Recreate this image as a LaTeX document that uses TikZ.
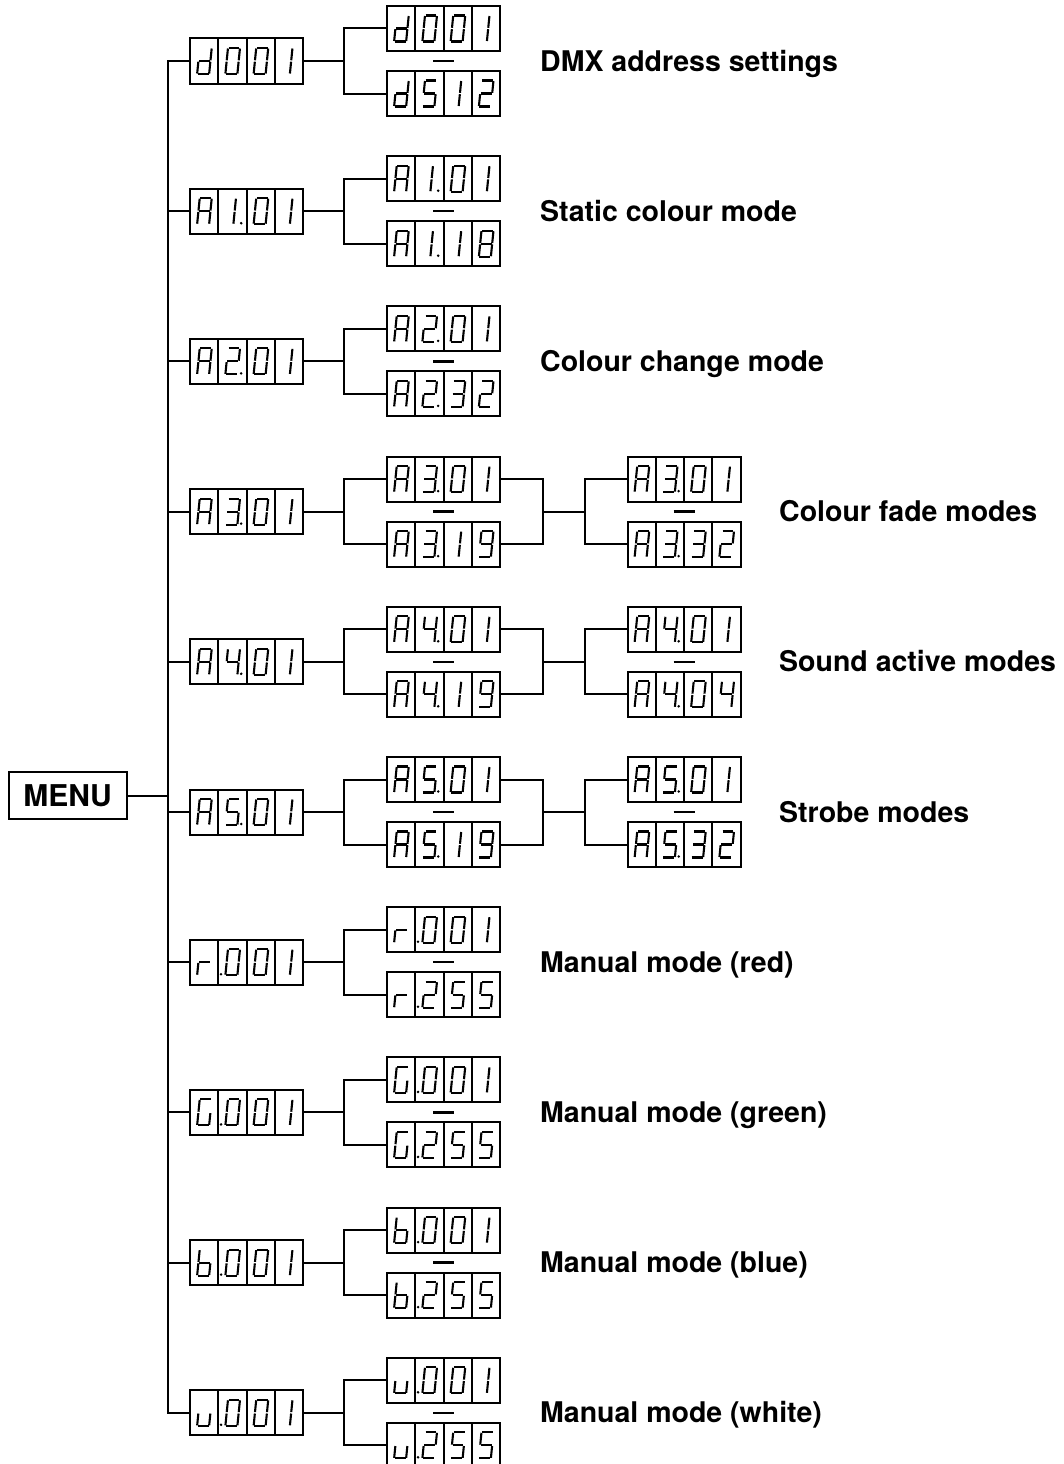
\documentclass[tikz,border=0pt]{standalone}
\usepackage{fontspec}
\setmainfont{TeX Gyre Heros}
\usetikzlibrary{calc}

% glyph segment lists
\def\glA{a,b,c,e,f,g}
\def\gld{b,c,d,e,g}
\def\glr{e,g}
\def\glG{a,f,e,d,c}
\def\glb{f,e,d,c,g}
\def\glu{e,d,c}
\expandafter\def\csname gl0\endcsname{a,b,c,d,e,f}
\expandafter\def\csname gl1\endcsname{p,q}
\expandafter\def\csname gl2\endcsname{a,b,g,e,d}
\expandafter\def\csname gl3\endcsname{a,b,g,c,d}
\expandafter\def\csname gl4\endcsname{f,g,b,c}
\expandafter\def\csname gl5\endcsname{a,f,g,c,d}
\expandafter\def\csname gl8\endcsname{a,b,c,d,e,f,g}
\expandafter\def\csname gl9\endcsname{a,b,c,d,f,g}
% segment paths (local, y down)
\def\sga{(-5.4,-13)--(5.4,-13)}
\def\sgb{(6,-12.5)--(6,-0.7)}
\def\sgc{(6,0.7)--(6,12.5)}
\def\sgd{(-5.4,13)--(5.4,13)}
\def\sge{(-6,0.7)--(-6,12.5)}
\def\sgf{(-6,-12.5)--(-6,-0.7)}
\def\sgg{(-5.4,0)--(5.4,0)}
\def\sgp{(2,-12.5)--(2,-0.7)}
\def\sgq{(2,0.7)--(2,12.5)}

\tikzset{
  boxline/.style={line width=2pt},
  dispbox/.style={draw, boxline, rectangle, minimum width=113pt, minimum height=45pt, inner sep=0pt, outer sep=0pt},
  segline/.style={line width=2.1pt, line cap=butt},
  conn/.style={line width=2pt},
  lab/.style={anchor=base west, inner sep=0pt, font=\bfseries\fontsize{28.5}{30}\selectfont},
  menubox/.style={draw, boxline, minimum width=118pt, minimum height=47pt, inner sep=0pt, font=\bfseries\fontsize{30}{32}\selectfont},
}

\newcommand\dispshow[8]{%
  \node[dispbox] (#1) at (#2,#3) {};
  \foreach \kk in {1,2,3}{\draw[boxline] ({#2-56.5+\kk*28.25},{#3-22.5}) -- ++(0,45);}
  \foreach \kk/\gch in {1/#4,2/#5,3/#6,4/#7}{%
    \expandafter\let\expandafter\seglist\csname gl\gch\endcsname
    \begin{scope}[shift={({#2-56.5+(\kk-0.5)*28.25+0.3},#3)},xslant=0.1]
      \foreach \s in \seglist{\expandafter\let\expandafter\segpath\csname sg\s\endcsname \draw[segline] \segpath;}
    \end{scope}}
  \ifx R#8 \fill ({#2-56.5+1.5*28.25+8.8},{#3+12}) circle (1.4);\fi
  \ifx L#8 \fill ({#2-56.5+28.25+2.8},{#3+12}) circle (1.4);\fi
}
\newcommand\dashmark[2]{\draw[line width=2.3pt] ({#1-10.5},#2) -- ({#1+10.5},#2);}

\begin{document}
\begin{tikzpicture}[x=1pt,y=-1pt]
\useasboundingbox (0,0) rectangle (1064,1464);
\clip (0,0) rectangle (1064,1464);

\node[menubox] (menu) at (67.5,795.5) {MENU};
\coordinate (trunk) at (168,0);

% rows: main displays
\dispshow{m1}{246.5}{61}{d}{0}{0}{1}{N}
\dispshow{m2}{246.5}{211.2}{A}{1}{0}{1}{R}
\dispshow{m3}{246.5}{361.4}{A}{2}{0}{1}{R}
\dispshow{m4}{246.5}{511.6}{A}{3}{0}{1}{R}
\dispshow{m5}{246.5}{661.8}{A}{4}{0}{1}{R}
\dispshow{m6}{246.5}{812}{A}{5}{0}{1}{R}
\dispshow{m7}{246.5}{962.2}{r}{0}{0}{1}{L}
\dispshow{m8}{246.5}{1112.4}{G}{0}{0}{1}{L}
\dispshow{m9}{246.5}{1262.6}{b}{0}{0}{1}{L}
\dispshow{m10}{246.5}{1412.8}{u}{0}{0}{1}{L}

% sub displays
\dispshow{s1a}{443.5}{28.5}{d}{0}{0}{1}{N}
\dispshow{s1b}{443.5}{93.5}{d}{5}{1}{2}{N}
\dispshow{s2a}{443.5}{178.7}{A}{1}{0}{1}{R}
\dispshow{s2b}{443.5}{243.7}{A}{1}{1}{8}{R}
\dispshow{s3a}{443.5}{328.9}{A}{2}{0}{1}{R}
\dispshow{s3b}{443.5}{393.9}{A}{2}{3}{2}{R}
\dispshow{s4a}{443.5}{479.1}{A}{3}{0}{1}{R}
\dispshow{s4b}{443.5}{544.1}{A}{3}{1}{9}{R}
\dispshow{s5a}{443.5}{629.3}{A}{4}{0}{1}{R}
\dispshow{s5b}{443.5}{694.3}{A}{4}{1}{9}{R}
\dispshow{s6a}{443.5}{779.5}{A}{5}{0}{1}{R}
\dispshow{s6b}{443.5}{844.5}{A}{5}{1}{9}{R}
\dispshow{s7a}{443.5}{929.7}{r}{0}{0}{1}{L}
\dispshow{s7b}{443.5}{994.7}{r}{2}{5}{5}{L}
\dispshow{s8a}{443.5}{1079.9}{G}{0}{0}{1}{L}
\dispshow{s8b}{443.5}{1144.9}{G}{2}{5}{5}{L}
\dispshow{s9a}{443.5}{1230.1}{b}{0}{0}{1}{L}
\dispshow{s9b}{443.5}{1295.1}{b}{2}{5}{5}{L}
\dispshow{s10a}{443.5}{1380.3}{u}{0}{0}{1}{L}
\dispshow{s10b}{443.5}{1445.3}{u}{2}{5}{5}{L}

% third column
\dispshow{t4a}{684}{479.1}{A}{3}{0}{1}{R}
\dispshow{t4b}{684}{544.1}{A}{3}{3}{2}{R}
\dispshow{t5a}{684}{629.3}{A}{4}{0}{1}{R}
\dispshow{t5b}{684}{694.3}{A}{4}{0}{4}{R}
\dispshow{t6a}{684}{779.5}{A}{5}{0}{1}{R}
\dispshow{t6b}{684}{844.5}{A}{5}{3}{2}{R}

% dashes
\foreach \yy in {61,211.2,361.4,511.6,661.8,812,962.2,1112.4,1262.6,1412.8}{\dashmark{443.5}{\yy}}
\foreach \yy in {511.6,661.8,812}{\dashmark{684}{\yy}}

% trunk
\draw[conn] (menu.east) -- (menu.east -| trunk);
\draw[conn] (m1.west) -- (m1.west -| trunk) |- (m10.west);
\foreach \i in {2,...,9}{\draw[conn] (m\i.west) -- (m\i.west -| trunk);}

% branches
\foreach \i in {1,...,10}{
  \draw[conn] (m\i.east) -- ++(41,0) coordinate (b\i);
  \draw[conn] (s\i a.west) -| (b\i) |- (s\i b.west);
}
\foreach \i in {4,5,6}{
  \draw[conn] (s\i a.east) -- ++(43,0) coordinate (c\i) -- (c\i |- s\i b.east) -- (s\i b.east);
  \draw[conn] (c\i |- m\i.east) -- ++(42,0) coordinate (d\i);
  \draw[conn] (t\i a.west) -| (d\i) |- (t\i b.west);
}

% labels
\node[lab] (l1) at (540,71) {DMX address settings};
\node[lab] (l2) at (540,221.2) {Static colour mode};
\node[lab] (l3) at (540,371.4) {Colour change mode};
\node[lab] (l4) at (779,521.6) {Colour fade modes};
\node[lab] (l5) at (779,671.8) {Sound active modes};
\node[lab] (l6) at (779,822) {Strobe modes};
\node[lab] (l7) at (540,972.2) {Manual mode (red)};
\node[lab] (l8) at (540,1122.4) {Manual mode (green)};
\node[lab] (l9) at (540,1272.6) {Manual mode (blue)};
\node[lab] (l10) at (540,1422.8) {Manual mode (white)};
\end{tikzpicture}
\end{document}
